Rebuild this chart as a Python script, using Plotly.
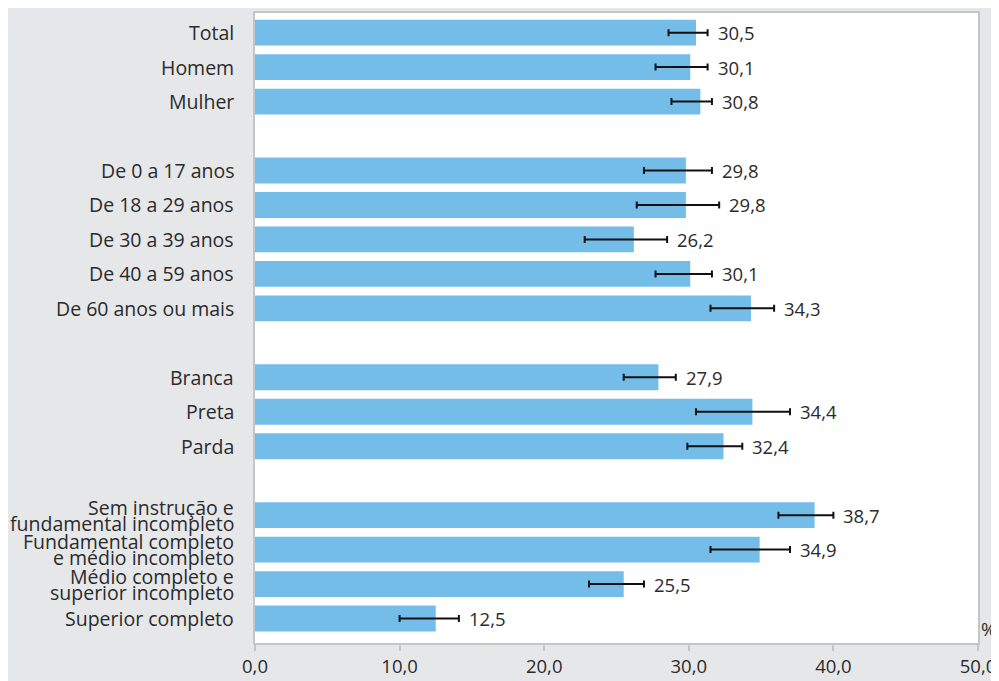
import plotly.graph_objects as go

# ---- data ----
categories = [
    "Total", "Homem", "Mulher",
    "De 0 a 17 anos", "De 18 a 29 anos", "De 30 a 39 anos", "De 40 a 59 anos", "De 60 anos ou mais",
    "Branca", "Preta", "Parda",
    "Sem instrução e<br>fundamental incompleto",
    "Fundamental completo<br>e médio incompleto",
    "Médio completo e<br>superior incompleto",
    "Superior completo",
]
groups = [0, 0, 0, 1, 1, 1, 1, 1, 2, 2, 2, 3, 3, 3, 3]
values = [30.5, 30.1, 30.8, 29.8, 29.8, 26.2, 30.1, 34.3, 27.9, 34.4, 32.4, 38.7, 34.9, 25.5, 12.5]
ci_low = [28.6, 27.7, 28.8, 26.9, 26.4, 22.8, 27.7, 31.5, 25.5, 30.5, 29.9, 36.2, 31.5, 23.1, 10.0]
ci_high = [31.3, 31.3, 31.6, 31.6, 32.1, 28.5, 31.6, 35.9, 29.1, 37.0, 33.7, 40.0, 37.0, 26.9, 14.1]
x_ticks = [0, 10, 20, 30, 40, 50]
x_tick_labels = ["0,0", "10,0", "20,0", "30,0", "40,0", "50,0"]
unit_label = "%"

FONT = "Open Sans"
TXT = "#2b2b2b"
BAR = "#74bde8"
BG = "#e6e7e9"
LINE = "#c3c5c7"

# category order with blank spacer rows between groups
order = []
spacer = 0
for i, c in enumerate(categories):
    if i > 0 and groups[i] != groups[i - 1]:
        spacer += 1
        order.append(" " * spacer)
    order.append(c)

fig = go.Figure()
fig.add_trace(go.Bar(
    y=categories,
    x=values,
    orientation="h",
    marker=dict(color=BAR, line=dict(width=0)),
    error_x=dict(
        type="data",
        symmetric=False,
        array=[h - v for h, v in zip(ci_high, values)],
        arrayminus=[v - l for v, l in zip(values, ci_low)],
        color="#111111",
        thickness=2,
        width=3.5,
    ),
    hoverinfo="skip",
    showlegend=False,
))

annotations = []
# category labels (lines drawn separately for tight line spacing)
for c in categories:
    lines = c.split("<br>")
    n = len(lines)
    for k, ln in enumerate(lines):
        annotations.append(dict(
            text=ln, xref="paper", x=0, xanchor="right", xshift=-19,
            yref="y", y=c, yanchor="middle", yshift=((n - 1) / 2 - k) * 16,
            showarrow=False, font=dict(family=FONT, size=19.5, color=TXT),
        ))
# value labels
for c, v, h in zip(categories, values, ci_high):
    annotations.append(dict(
        text=f"{v:.1f}".replace(".", ","), xref="x", x=h, xanchor="left", xshift=8,
        yref="y", y=c, yanchor="middle",
        showarrow=False, font=dict(family=FONT, size=18.5, color=TXT),
    ))
# unit label
annotations.append(dict(
    text=unit_label, xref="paper", x=1, xanchor="left", xshift=1,
    yref="paper", y=0, yanchor="middle", yshift=15,
    showarrow=False, font=dict(family=FONT, size=18.5, color=TXT),
))

fig.update_layout(
    width=991, height=673,
    margin=dict(l=247, r=21, t=3, b=33),
    paper_bgcolor=BG,
    plot_bgcolor="white",
    bargap=0.25,
    annotations=annotations,
    font=dict(family=FONT, size=18.5, color=TXT),
)
fig.update_xaxes(
    range=[0, 50], tickvals=x_ticks, ticktext=x_tick_labels,
    showgrid=False, zeroline=False,
    showline=True, mirror=True, linecolor=LINE, linewidth=1.5,
    ticks="outside", ticklen=6, tickcolor=LINE, tickwidth=1.5,
    tickfont=dict(family=FONT, size=18.5, color=TXT),
)
fig.update_yaxes(
    type="category", categoryorder="array", categoryarray=order,
    range=[len(order) - 1 + 0.71, -0.57],
    showticklabels=False, ticks="", showgrid=False, zeroline=False,
    showline=True, mirror=True, linecolor=LINE, linewidth=1.5,
)

fig.write_html("out.html")
